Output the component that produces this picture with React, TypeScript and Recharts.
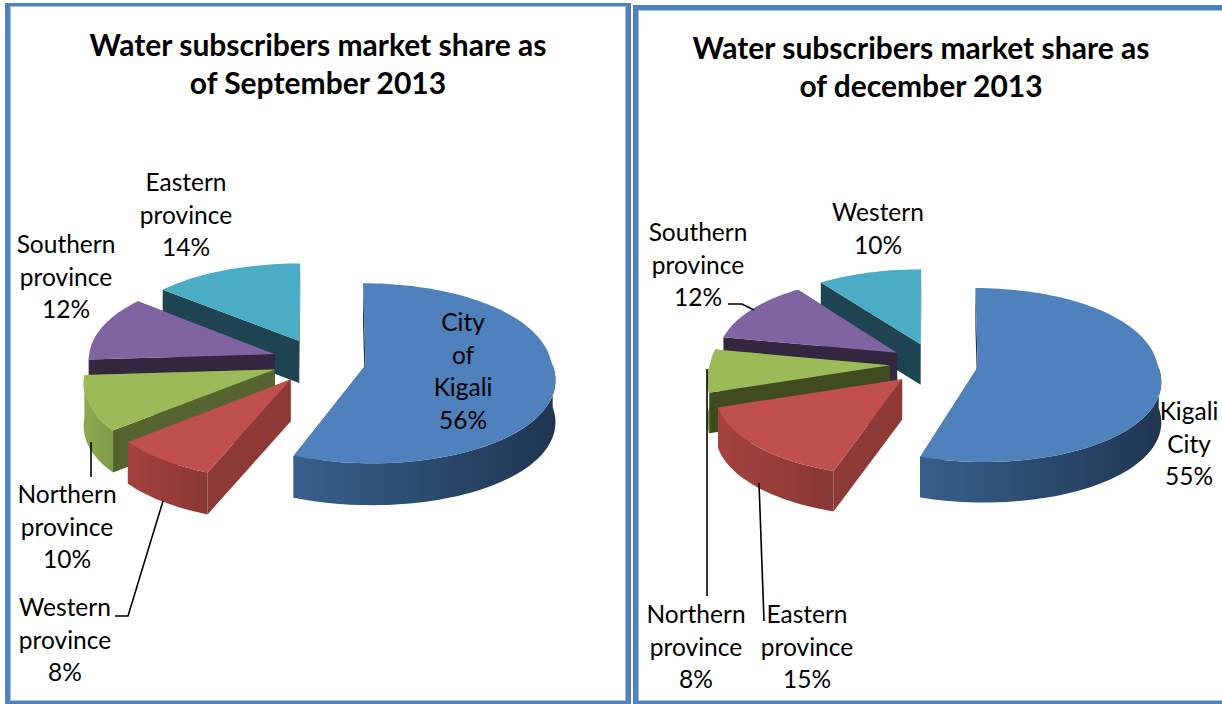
import { Pie, PieChart } from "recharts";

// data is listed back to front so the front slices paint last
const septNames = ["Eastern province", "Southern province", "Northern province", "Western province", "City of Kigali"];
const septValues = [14, 12, 10, 8, 56];
const decNames = ["Western", "Southern province", "Northern province", "Eastern province", "Kigali City"];
const decValues = [10, 12, 8, 15, 55];

const topColors = ["#4bacc6", "#8064a2", "#9bbb59", "#c0504d", "#4f81bd"];
const wallFrom = ["#276070", "#4a3a5e", "#8cab50", "#a5423f", "#38608c"];
const wallTo = ["#276070", "#4a3a5e", "#7d9a47", "#873734", "#1f3552"];
const septCut = ["#1f4451", "#35263f", "#56652f", "#8d3936", "#1f3552"];
const decCut = ["#1f4451", "#35263f", "#404b20", "#8d3936", "#1f3552"];

const FONT = "Lato, Carlito, sans-serif";
const TILT = 0.48;

interface Placement {
  x: number;
  y: number;
  leader?: string;
}

const septPlaces: Placement[] = [
  { x: 186, y: 183 },
  { x: 66, y: 245 },
  { x: 67, y: 495, leader: "91,442 91,477" },
  { x: 65, y: 608, leader: "163,501 128,616 115,616" },
  { x: 463, y: 323 },
];
const decPlaces: Placement[] = [
  { x: 246, y: 213 },
  { x: 66, y: 233, leader: "96,304 110,304 122,310" },
  { x: 64, y: 615, leader: "75,369 75,596" },
  { x: 175, y: 615, leader: "127,483 132,621" },
  { x: 557, y: 412 },
];

// fake perspective: things nearer the viewer (V > 0) get scaled up around the pie centre
const project = (cx: number, cy: number, r: number, ox: number, oy: number, radial: number, deg: number) => {
  const a = (deg * Math.PI) / 180;
  const X = ox + radial * r * Math.cos(a);
  const Y = oy - radial * r * Math.sin(a);
  const V = Y / r;
  const k = V > 0 ? 0.14 : 0.05;
  return [cx + X * (1 + k * V), cy + TILT * Y * (1 + 0.09 * V)];
};

const arcPoints = (cx: number, cy: number, r: number, ox: number, oy: number, from: number, to: number) => {
  const pts: number[][] = [];
  const steps = Math.max(2, Math.ceil((to - from) / 2));
  for (let i = 0; i <= steps; i++) pts.push(project(cx, cy, r, ox, oy, 1, from + ((to - from) * i) / steps));
  return pts;
};

const toPath = (pts: number[][]) =>
  "M" + pts.map((p) => p[0].toFixed(1) + " " + p[1].toFixed(1)).join("L") + "Z";

const Slice3D = (props: any) => {
  const { cx, cy, outerRadius: r, startAngle, endAngle, index, explode, cut, id } = props;
  const mid = ((startAngle + endAngle) / 2) * (Math.PI / 180);
  const ox = explode * Math.cos(mid);
  const oy = -explode * Math.sin(mid);
  const depth = 0.225 * r;
  const down = (p: number[]) => [p[0], p[1] + depth];

  const arc = arcPoints(cx, cy, r, ox, oy, startAngle, endAngle);
  const first = arc[0];
  const last = arc[arc.length - 1];
  const apex = project(cx, cy, r, ox, oy, 0, 0);

  const wallStart = Math.max(startAngle, 180);
  const wallEnd = Math.min(endAngle, 360);
  const wall = wallEnd > wallStart ? arcPoints(cx, cy, r, ox, oy, wallStart, wallEnd) : null;
  const gradId = `wall-${id}-${index}`;

  return (
    <g>
      <defs>
        <linearGradient id={gradId} x1="0" y1="0" x2="1" y2="0">
          <stop offset="0%" stopColor={wallFrom[index]} />
          <stop offset="100%" stopColor={wallTo[index]} />
        </linearGradient>
      </defs>
      <path d={toPath([apex, first, down(first), down(apex)])} fill={cut[index]} />
      <path d={toPath([apex, last, down(last), down(apex)])} fill={cut[index]} />
      {wall && <path d={toPath([...wall, ...wall.map(down).reverse()])} fill={`url(#${gradId})`} />}
      <path d={toPath([apex, ...arc])} fill={topColors[index]} />
    </g>
  );
};

const makeLabel = (places: Placement[]) => (props: any) => {
  const place = places[props.index];
  const lines = [...String(props.name).split(" "), props.value + "%"];
  return (
    <g key={props.name}>
      {place.leader && <polyline points={place.leader} fill="none" stroke="#000" strokeWidth={1.6} />}
      <text x={place.x} y={place.y} textAnchor="middle" fontFamily={FONT} fontSize={24.5} fill="#000">
        {lines.map((line, i) => (
          <tspan key={line} x={place.x} y={place.y + 8 + i * 32.7}>
            {line}
          </tspan>
        ))}
      </text>
    </g>
  );
};

interface PanelProps {
  id: string;
  names: string[];
  values: number[];
  cut: string[];
  places: Placement[];
  title: string[];
  titleX: number;
  titleY: number;
  cx: number;
  cy: number;
  radius: number;
  explode: number;
  width: number;
}

const Panel = ({ id, names, values, cut, places, title, titleX, titleY, cx, cy, radius, explode, width }: PanelProps) => {
  const data = names.map((name, i) => ({ name, value: values[i] }));
  return (
    <PieChart width={width} height={704} margin={{ top: 0, right: 0, bottom: 0, left: 0 }}>
      <text textAnchor="middle" fontFamily={FONT} fontSize={30} fontWeight={700} fill="#000">
        {title.map((line, i) => (
          <tspan key={line} x={titleX} y={titleY + i * 38}>
            {line}
          </tspan>
        ))}
      </text>
      <Pie
        data={data}
        dataKey="value"
        nameKey="name"
        cx={cx}
        cy={cy}
        outerRadius={radius}
        startAngle={90}
        endAngle={450}
        stroke="none"
        isAnimationActive={false}
        labelLine={false}
        label={makeLabel(places)}
        shape={(p: any) => <Slice3D {...p} explode={explode} cut={cut} id={id} />}
      />
    </PieChart>
  );
};

export default function App() {
  return (
    <div style={{ position: "absolute", left: 0, top: 0, width: 1222, height: 704, overflow: "hidden", background: "#fff" }}>
      <div
        style={{
          position: "absolute",
          left: 5,
          top: 3,
          width: 626,
          height: 701,
          boxSizing: "border-box",
          border: "5px solid #4f81bd",
          borderTopWidth: 3,
          borderBottomWidth: 3,
          boxShadow: "inset 0 0 0 1px #a3bfe0",
        }}
      />
      <div
        style={{
          position: "absolute",
          left: 633,
          top: 5,
          width: 620,
          height: 699,
          boxSizing: "border-box",
          border: "5px solid #4f81bd",
          borderBottomWidth: 3,
          boxShadow: "inset 0 0 0 1px #a3bfe0",
        }}
      />
      <div style={{ position: "absolute", left: 0, top: 0 }}>
        <Panel
          id="sept"
          names={septNames}
          values={septValues}
          cut={septCut}
          places={septPlaces}
          title={["Water subscribers market share as", "of September 2013"]}
          titleX={318}
          titleY={56}
          cx={319}
          cy={361}
          radius={186}
          explode={47}
          width={632}
        />
      </div>
      <div style={{ position: "absolute", left: 632, top: 0 }}>
        <Panel
          id="dec"
          names={decNames}
          values={decValues}
          cut={decCut}
          places={decPlaces}
          title={["Water subscribers market share as", "of december 2013"]}
          titleX={289}
          titleY={59}
          cx={302}
          cy={364}
          radius={180}
          explode={44}
          width={590}
        />
      </div>
    </div>
  );
}
